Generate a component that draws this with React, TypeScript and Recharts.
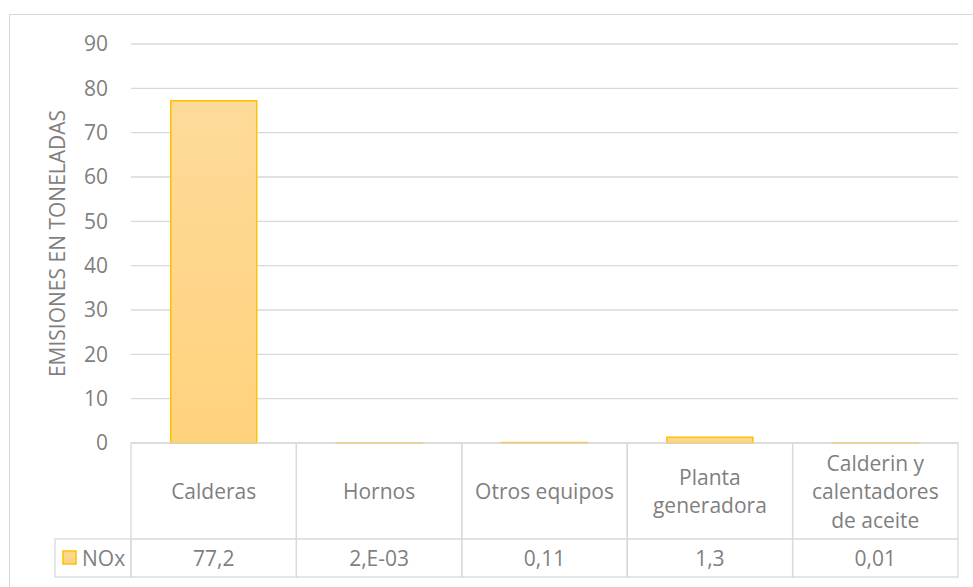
import React from "react";
import { BarChart, Bar, XAxis, YAxis, CartesianGrid } from "recharts";

const categories = [
  "Calderas",
  "Hornos",
  "Otros equipos",
  "Planta generadora",
  "Calderin y calentadores de aceite",
];
const noxValues = [77.2, 0.002, 0.11, 1.3, 0.01];
const noxLabels = ["77,2", "2,E-03", "0,11", "1,3", "0,01"];
const yTicks = [0, 10, 20, 30, 40, 50, 60, 70, 80, 90];
const seriesName = "NOx";
const yTitle = "EMISIONES EN TONELADAS";

const data = categories.map((name, i) => ({ name, nox: noxValues[i] }));

const FONT = "'Open Sans', sans-serif";
const TEXT = "#7f7f7f";
const BORDER = "#d9d9d9";
const ROW1 = 96;
const ROW2 = 38;
const LEGEND_W = 76;
const LINE_H = 28.5;
const WRAP_W = 148;

let ctx: CanvasRenderingContext2D | null = null;
function wrap(label: string, maxW: number): string[] {
  if (!ctx) {
    ctx = document.createElement("canvas").getContext("2d");
  }
  if (!ctx) return [label];
  ctx.font = `21px ${FONT}`;
  const lines: string[] = [];
  let cur = "";
  for (const word of label.split(" ")) {
    const test = cur ? cur + " " + word : word;
    if (cur && ctx.measureText(test).width > maxW) {
      lines.push(cur);
      cur = word;
    } else {
      cur = test;
    }
  }
  if (cur) lines.push(cur);
  return lines;
}

// data table under the plot, one column per category tick
const TableTick = (props: any) => {
  const { x, y, payload, index, width, visibleTicksCount } = props;
  const w = width / visibleTicksCount;
  const left = x - w / 2;
  const lines = wrap(String(payload.value), WRAP_W);
  const firstY = y + ROW1 / 2 - ((lines.length - 1) * LINE_H) / 2;
  return (
    <g>
      <rect x={left} y={y} width={w} height={ROW1 + ROW2} fill="none" stroke={BORDER} strokeWidth={1.3} />
      <line x1={left} x2={left + w} y1={y + ROW1} y2={y + ROW1} stroke={BORDER} strokeWidth={1.3} />
      {lines.map((ln, i) => (
        <text
          key={i}
          x={x}
          y={firstY + i * LINE_H}
          textAnchor="middle"
          dominantBaseline="central"
          fontSize={21}
          fontFamily={FONT}
          fill={TEXT}
        >
          {ln}
        </text>
      ))}
      <text
        x={x}
        y={y + ROW1 + ROW2 / 2}
        textAnchor="middle"
        dominantBaseline="central"
        fontSize={21}
        fontFamily={FONT}
        fill={TEXT}
      >
        {noxLabels[index]}
      </text>
      {index === 0 && (
        <g>
          <rect
            x={left - LEGEND_W}
            y={y + ROW1}
            width={LEGEND_W}
            height={ROW2}
            fill="none"
            stroke={BORDER}
            strokeWidth={1.3}
          />
          <rect
            x={left - LEGEND_W + 8}
            y={y + ROW1 + 12}
            width={13}
            height={13}
            fill="url(#noxGrad)"
            stroke="#FFC000"
            strokeWidth={1.5}
          />
          <text
            x={left - LEGEND_W + 27}
            y={y + ROW1 + ROW2 / 2}
            dominantBaseline="central"
            fontSize={21}
            fontFamily={FONT}
            fill={TEXT}
          >
            {seriesName}
          </text>
        </g>
      )}
    </g>
  );
};

const YTitle = (props: any) => {
  const { viewBox } = props;
  const cy = viewBox.y + viewBox.height / 2;
  const cx = 57;
  return (
    <text
      x={cx}
      y={cy}
      transform={`rotate(-90 ${cx} ${cy})`}
      textAnchor="middle"
      dominantBaseline="central"
      fontSize={21}
      fontFamily={FONT}
      fill={TEXT}
    >
      {yTitle}
    </text>
  );
};

export default function App() {
  return (
    <div
      style={{
        position: "fixed",
        left: 0,
        top: 0,
        width: 973,
        height: 587,
        overflow: "hidden",
        background: "#fff",
        fontFamily: FONT,
      }}
    >
      <div
        style={{
          position: "absolute",
          left: 9,
          top: 14,
          width: 990,
          height: 620,
          border: `1px solid ${BORDER}`,
        }}
      />
      <div style={{ position: "absolute", left: 0, top: 0 }}>
        <BarChart
          width={973}
          height={587}
          data={data}
          margin={{ top: 44, right: 15, left: 0, bottom: 10 }}
          barCategoryGap="24%"
        >
          <defs>
            <linearGradient id="noxGrad" x1="0" y1="0" x2="0" y2="1">
              <stop offset="0%" stopColor="#FEDA9A" />
              <stop offset="100%" stopColor="#FFD27C" />
            </linearGradient>
          </defs>
          <CartesianGrid vertical={false} stroke={BORDER} strokeWidth={1.3} />
          <XAxis
            dataKey="name"
            height={134}
            interval={0}
            tickLine={false}
            axisLine={false}
            tickSize={0}
            tickMargin={0}
            tick={<TableTick />}
          />
          <YAxis
            width={131}
            domain={[0, 90]}
            ticks={yTicks}
            tickLine={false}
            axisLine={false}
            tickSize={0}
            tickMargin={23}
            tick={{ fontSize: 21, fill: TEXT, fontFamily: FONT }}
            label={{ content: <YTitle /> }}
          />
          <Bar
            dataKey="nox"
            name={seriesName}
            fill="url(#noxGrad)"
            stroke="#FFC000"
            strokeWidth={1.5}
            isAnimationActive={false}
          />
        </BarChart>
      </div>
    </div>
  );
}
